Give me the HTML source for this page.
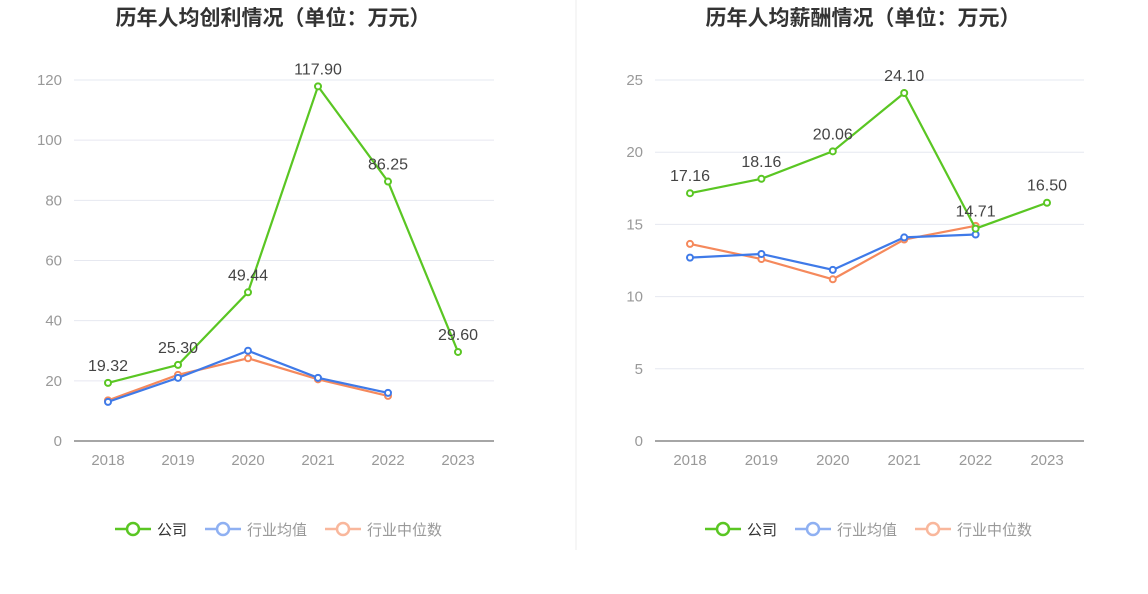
<!DOCTYPE html>
<html><head><meta charset="utf-8"><style>
body{margin:0;background:#fff;width:1148px;height:589px;overflow:hidden;font-family:"Liberation Sans","Noto Sans CJK SC",sans-serif}
svg text{font-family:"Liberation Sans","Noto Sans CJK SC",sans-serif}
</style></head><body>
<svg id="s" width="1148" height="589"></svg>
<script>
const years=["2018","2019","2020","2021","2022","2023"];
const profitCompany=[19.32,25.30,49.44,117.90,86.25,29.60];
const profitAvg=[13,21,30,21,16,null];
const profitMedian=[13.5,22,27.5,20.5,15,null];
const profitTicks=[0,20,40,60,80,100,120];
const salaryCompany=[17.16,18.16,20.06,24.10,14.71,16.50];
const salaryAvg=[12.7,12.95,11.85,14.1,14.3,null];
const salaryMedian=[13.65,12.6,11.2,13.95,14.9,null];
const salaryTicks=[0,5,10,15,20,25];
const NS="http://www.w3.org/2000/svg";
const svg=document.getElementById('s');
function el(t,a,txt){const e=document.createElementNS(NS,t);for(const k in a)e.setAttribute(k,a[k]);if(txt!==undefined)e.textContent=txt;svg.appendChild(e);return e;}
function chart(o){
  const y0=441,y1=80,max=o.ticks[o.ticks.length-1];
  const Y=v=>y0-(v/max)*(y0-y1);
  const X=i=>o.x0+i*o.step;
  let t=el('text',{x:o.cx,y:25,'text-anchor':'middle','font-size':21,'font-weight':'bold',fill:'#333'},o.title);
  
  o.ticks.forEach(v=>{
    let g=el('line',{x1:o.ax0,x2:o.ax1,y1:Y(v),y2:Y(v),stroke:v===0?'#888':'#e6e8f0','stroke-width':v===0?1.5:1});
    
    let l=el('text',{x:o.ax0-12,y:Y(v)+5,'text-anchor':'end','font-size':15,fill:'#999'},v);
    
  });
  years.forEach((y,i)=>{
    let l=el('text',{x:X(i),y:465,'text-anchor':'middle','font-size':15,fill:'#999'},y);
    
  });
  const series=[[o.med,'#f5895c','median'],[o.avg,'#3f7ae8','average'],[o.comp,'#5ac623','company']];
  series.forEach(([d,c,n])=>{
    let pts=d.map((v,i)=>v==null?null:X(i)+','+Y(v)).filter(p=>p);
    let pl=el('polyline',{points:pts.join(' '),fill:'none',stroke:c,'stroke-width':2.2});
    
    d.forEach((v,i)=>{if(v==null)return;
      let ci=el('circle',{cx:X(i),cy:Y(v),r:3,fill:'#fff',stroke:c,'stroke-width':2});
      
    });
  });
  o.comp.forEach((v,i)=>{
    let l=el('text',{x:X(i),y:Y(v)-12,'text-anchor':'middle','font-size':16,fill:'#444'},v.toFixed(2));
    
  });
  const lg=[['公司','#5ac623','#333',o.lx],['行业均值','#8fb0f2','#999',o.lx+90],['行业中位数','#f9b79c','#999',o.lx+210]];
  lg.forEach(([n,c,tc,x])=>{
    let a=el('line',{x1:x,x2:x+36,y1:529,y2:529,stroke:c,'stroke-width':2.5});
    
    let b=el('circle',{cx:x+18,cy:529,r:6,fill:'#fff',stroke:c,'stroke-width':2.5});
    
    let t=el('text',{x:x+42,y:535,'font-size':15,fill:tc},n);
    
  });
}
chart({p:'profit',title:'历年人均创利情况（单位：万元）',cx:273,x0:108,step:70,ax0:74,ax1:494,ticks:profitTicks,comp:profitCompany,avg:profitAvg,med:profitMedian,lx:115});
chart({p:'salary',title:'历年人均薪酬情况（单位：万元）',cx:863,x0:690,step:71.4,ax0:655,ax1:1084,ticks:salaryTicks,comp:salaryCompany,avg:salaryAvg,med:salaryMedian,lx:705});
let d=el('line',{x1:576,x2:576,y1:0,y2:550,stroke:'#eee'});

</script>
</body></html>
